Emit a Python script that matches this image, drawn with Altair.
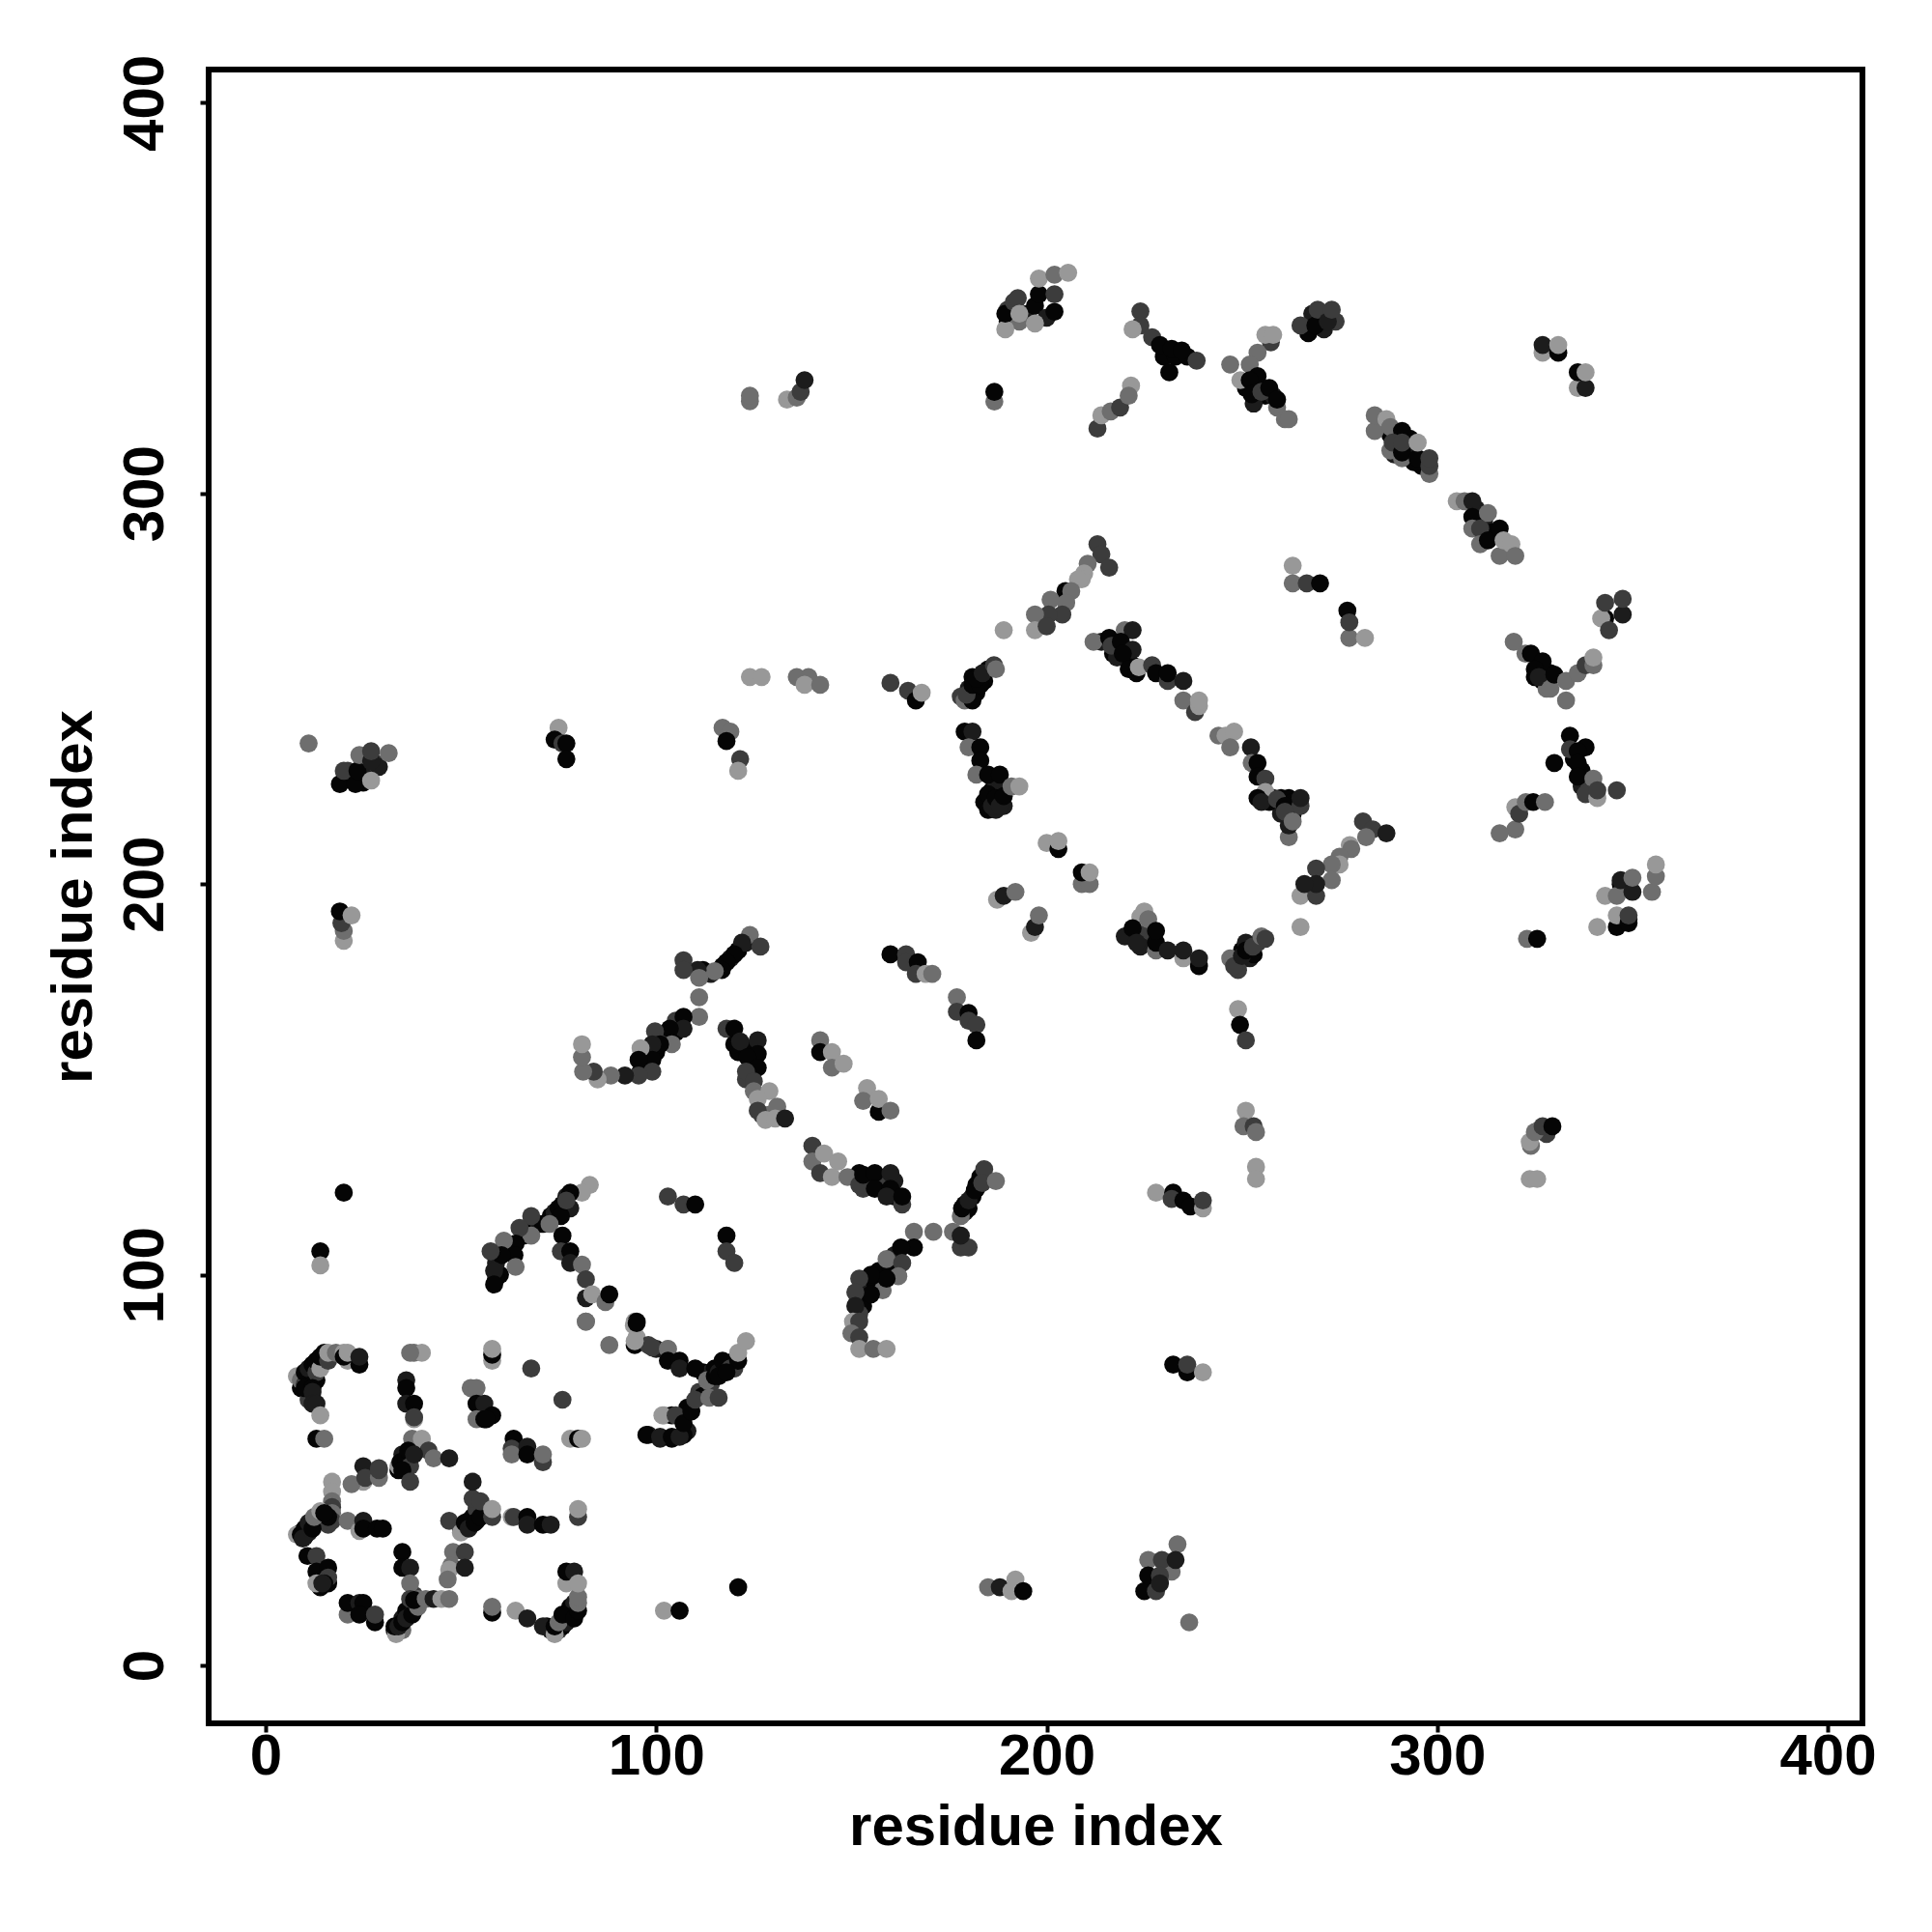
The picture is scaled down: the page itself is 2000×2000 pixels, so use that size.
import altair as alt
import pandas as pd

K, E, D, M, L = 0, 1, 2, 3, 4
level_domain = [K, E, D, M, L]
level_grays = ["#050505", "#1c1c1c", "#3c3c3c", "#6e6e6e", "#989898"]
tick_values = [0, 100, 200, 300, 400]

under_low = [(9,71,K),(10,73,E),(11,71,K),(11,73,E),(12,75,E),(13,73,K),(14,77,K),(15,78,E),(11,68,D),
 (9,34,K),(10,33,K),(11,34,E),(12,36,K),(13,37,E),(14,38,K),(15,37,D),(16,36,D),
 (34,50,K),(35,52,E),(36,51,K),(37,53,K),(35,54,E),(50,35,E),(51,35,K),(52,37,E),(53,38,K),(54,37,K),(54,40,D),
 (33,9,E),(34,9,K),(35,9,M),(35,12,E),(36,14,K),(37,15,K),(38,14,E),(38,18,D),(39,17,M),
 (72,10,K),(73,9,E),(75,9,D),(76,10,K),(77,11,E),(78,13,K),(78,15,K),(79,16,E),(14,23,K),(15,23,E),(16,21,K),(14,20,K)]
under_mid = [(60,100,K),(59,103,E),(59,99,K),(69,113,K),(70,113,E),(71,113,K),(73,115,K),(74,116,E),(75,117,K),(76,118,K),(77,120,E),(66,110,K),(62,107,E),
 (112,75,K),(114,75,E),(115,76,K),(117,76,K),(118,77,E),(120,78,K),(120,76,D),(108,66,K),(111,70,D),(112,69,K),(114,72,D),(108,60,E),(107,59,K),
 (112,178,K),(114,177,E),(117,179,K),(119,181,E),(121,183,K),(123,185,E),(96,152,K),(97,156,E),(98,154,K),(100,157,K),(102,160,D),(105,162,K),(105,165,D),
 (121,157,K),(123,158,K),(124,155,E),(125,153,K),(123,150,D),(127,141,D),(129,141,M),
 (152,126,K),(154,124,E),(157,124,K),(158,123,D),(161,120,K),(161,124,E),(153,122,D),
 (179,118,K),(179,116,E),(180,117,K),(181,120,K),(182,122,E),(183,125,K),(182,123,K),
 (153,98,K),(154,97,E),(156,98,K),(153,92,K),(152,90,D),(157,101,K),(160,102,K),(161,105,E)]
under_high = [(180,249,K),(180,250,E),(181,253,K),(182,249,K),(183,253,E),(184,252,K),(185,255,K),(178,248,D),
 (186,224,K),(187,225,E),(188,222,K),(184,221,K),(185,219,K),(187,219,E),(189,220,E),
 (214,262,E),(217,259,K),(218,262,K),(220,258,K),(218,258,E),(222,256,K),(217,262,D),
 (258,222,E),(260,222,K),(262,222,K),(263,218,K),(260,218,E),(257,221,K),(263,221,K),
 (221,187,K),(223,187,K),(224,189,K),(225,186,E),(226,188,D),(224,184,E),
 (249,180,K),(250,183,K),(252,181,E),(253,182,K),(254,185,D),(251,185,E),(249,178,D),
 (326,254,K),(327,252,K),(328,252,E),(329,254,K),(325,253,K),(328,250,M),
 (288,315,K),(290,312,K),(293,311,E),(293,314,K),(296,307,K),(289,310,E),(294,308,K),
 (310,292,K),(312,293,E),(314,290,K),(310,296,E),(312,289,K),(337,229,K),(335,232,K),(337,225,E),(339,225,D),(338,235,K),
 (270,345,K),(271,342,E),(268,346,E),(267,341,K),(274,344,D),(253,327,K),(254,327,E),(256,325,K),(253,323,E),(258,325,E),(251,327,K),
 (230,335,K),(233,335,K),(236,335,K),(190,347,D),(192,346,K),(195,346,E),(197,348,K),(200,345,E),(190,344,K),(193,344,M),
 (24,228,K),(26,228,E),(21,229,D),(25,226,K),(28,231,D),(29,230,E),(349,191,E),(347,200,K),(348,200,M),(347,191,M),(324,133,M),(326,137,M),(328,136,D)]
ring_a = [(8,74,L),(9,73,M),(10,72,D),(10,75,K),(11,74,K),(11,76,E),(12,72,K),(12,77,K),(13,75,D),(13,78,K),(14,76,L),(14,79,K),(15,80,K),(16,78,D),(16,80,L),(18,80,M),(20,80,L),(21,78,L),(20,79,K),(21,80,L),(24,77,K),(24,79,E),
 (10,71,K),(12,71,K),(12,70,E),(12,67,E),(13,67,E),(14,64,L),(13,58,K),(15,58,M)]
ring_b = [(36,73,E),(36,71,K),(36,67,E),(38,67,K),(38,63,L),(38,63.5,D),(38,80,M),(40,80,L),(37,80,M),
 (52.5,71,M),(54,71,M),(54,67,K),(56,67,E),(54,63,M),(56,63,K),(58,64,K),(56.5,63,K),(58,78,L),(58,79.5,K),(58,81,L),(68,76,D),(76,68,D),
 (63.5,58,K),(63,55.5,D),(63,54,M),(67,56,E),(67,54,K),(71,52,D),(71,54,M),(78,58,L),(80,58,K),(81,58,L),
 (82,88,M),(88,82,M),(95,84,L),(94.5,88,L),(95,88,K),(94.5,82,K),(98,82,D),(100,81,E),(103,81,L),
 (102,64,L),(104,64,K),(98,59,E),(101,58,E),(104,58,K)]
ring_c = [(37.5,58,M),(40,58,L),(41.7,55,D),(43,53,M),(47,53,E),(34,51,L),(34.5,52,K),(36,53,K),(36.5,55,K),(37,51,D),(38,54,E),(35,50,K),(37,47,D),
 (25,51,E),(29,50.5,D),(25,47,L),(22,46.4,M),(25.5,48,D),(29,48,M),(29,50,D),
 (17,47,L),(17,44.5,L),(17,42,M),(17,40.5,D),(17,39,M),(17,37,D),(16,38,K),(8,33.5,L),(9,33.5,K),(10,35,K),(9.5,32.5,E),(11,36.5,E),(12,35,K),(12.4,38,M),(14,39.5,L),(15,39,K),
 (21,37,M),(24,34.4,L),(25,37,E),(25,35,K),(28.5,35,K),(30,35,K),
 (47,37,D),(50,34,L),(51,36.5,K),(52,35,E),(53.5,36.5,K),(55,38,K),(53,42.7,D),(55,42,D),(53,47,E),(58,38,D),(58,40,L),
 (63,38,L),(63.5,38,D),(67,38,K),(67,36,E),(71,36,K),(73,36,E),(80,38,D),(80,40,L)]
ring_d = [(10.7,28,K),(13,28,D),(13,24,K),(16,25,K),(16,22.5,D),(13,21,L),(15,21,K),(14.5,21,E),
 (35,29,K),(35,25,K),(37,25,E),(37,21,M),(48,29,M),(51,29,D),(47.5,25.5,M),(47,24.5,L),(51,25,E),(46.6,22,M),
 (21,13,M),(21,16,K),(24,16,E),(25,16,K),(24,13,K),(28,11,K),(28,13,D),
 (33.4,8,L),(33,10,K),(34,10,E),(35,11,K),(36,12,E),(37.5,13,K),(39,15,M),(37,17,D),(38,16.7,K),(41,17,M),(43,17,E),(45,17,L),(47,17,M),
 (58,13.5,K),(58,15,M),(64,14,L),(67,12,E),(71,10,E),(74,8,L),(74,10,K),(75,11,M),(76,13,K),(79,12,K),(80,14,K),(80,16,M),(80,17.5,M),(77,21,L),(77,24,K),(79,24,E),(80,21,L),
 (102,14,L),(106,14,K)]
bottom_misc = [(121,20,K),(236.5,11,M),(185,20,M),(188,20,E),(191,19,L),(192,22,L),(194,19,K),
 (232,24,M),(233.5,31,M),(226,27,M),(229.5,27,D),(225,19,K),(226,23,K),(229,23,D),(233,27,E),(228,19,D),(229,21,E)]
lower_arc = [(83,123,L),(81,121,L),(78,121,K),(78,117,E),(75.6,115,K),(77,119,D),(72.7,113,M),(68,115,D),(68,110,M),(65,112,D),(64,108,K),(61,108.7,M),(63.7,105,K),(60.4,105,K),(57.6,106,D),(58.5,101,E),(58.5,97.5,K),(64,102,M),
 (76,110,K),(75.6,106,D),(78,106,K),(78,103,E),(81,102.6,M),(82,98.8,D),(82,94,E),(83.6,95,L),(87,93,M),(88,95,K),(82,88,M),
 (103,120,D),(107,118,D),(110,118,K),(118,110,K),(118,106,D),(120,103,D),
 (94.3,87,L),(95,87.6,K),(94.5,83,L),(99,81.4,D),(103,81,M),(103,78,K),(106,78,K),(106,76,E),(110,76,K),(113,73,M),(115,74,K),(116,75,E),(117,78,K),(119,76,D),(121,78,K),(121,80,L),(123,83,L),
 (97.5,59,K),(101,58.5,E),(104,58.5,K),(106,58.5,E),(101.6,64,L),(105,64,D),(107,62,K),(109,65,K),(110,68,D),(113.6,68.5,M),(116,68.5,D),(116,74,K),(118,75,K)]
middle_arc = [(124,187,M),(122,185,E),(120,182,K),(118,180,K),(116.8,178,K),(115,177.7,M),(126.7,184,D),(110.6,178,E),(107,180.5,D),(107,178,D),(111,176,M),(111,171,M),(111,166,M),
 (107,166,K),(107,163,E),(103.5,163,K),(99.7,162.3,D),(104,159,M),(101,159,K),(99,159,E),(99,155,K),(96,158,L),(95.5,155,K),(99,152,D),(95.5,151,D),(92,151,E),(88.4,151,M),(85,150,L),(84,152,D),(81.3,152,M),(81,155.7,M),(81,159,L),
 (118,163,D),(120,163,K),(120,159,K),(121.5,159.7,E),(126,160,E),(126,156.5,K),(123.4,155.7,K),(126,153,K),(123,152,D),(125,149.5,D),(125,147,M),(129,147,L),(126,145,L),(126,142,D),(131,143,M),(128,139.6,L),(130.5,140,L),(133,140,E),
 (160,182,K),(164,182,D),(164,180,D),(167,180,K),(166.5,177,D),(169,177,L),(170.7,177,M),(177,171,M),(177,167.3,D),(180,167,K),(180,165,D),(182,164,D),(182,160,K),
 (142,160,M),(142,157,K),(145,157,L),(145,153,M),(148,154,L),(154,147.8,L),(153,144.5,M),(157,141.7,K),(157,145,L),(160,142,M),
 (140,133,D),(140,129,M),(142,126,D),(143,131,L),(146.6,129,L),(145,125,L),(149,125,M),(152,123,D),(153,125.6,K),(156,126,K),(160,126,E),(156,122,K),(160,122,K),(159,120,E),(163,118,D),(163,120,K),
 (184,127,D),(178,115,M),(178.3,117,K),(180,119,E),(181.6,121.6,K),(183.5,123.5,D),(187,124,M),
 (166,111,M),(171,111,M),(176,111,M),(178,107,D),(180,107,D),(178,110,E),(166,107,K),(162.7,107,K),(159,104,M),(163,103,D),(162,99.6,M),(158,96,M),(159,99,K),(155,100,K),(155,95,K),(152,99,D),(151,95.5,D),(151,92,E),
 (150.4,88,L),(152,88,D),(150,85,M),(152,84,D),(152,81,L),(155.6,81,M),(159,81,L)]
upper_ring = [(213,287,D),(214,284.4,D),(210.5,282,M),(209.6,279.5,L),(209,278,L),(208,278,L),(216,281,D),(204.8,275,K),(206.3,275,M),(205,272,M),(201,272.8,M),(204,269,D),(200.5,269,D),(197,269,M),(197,265,L),(200,266,D),(189,265,L),
 (179,247,M),(181,247,K),(179.5,248.5,D),(181,251,K),(183,251,K),(182,252.6,K),(183.6,254,E),(186.5,256,D),(187,255,M),
 (160,251.5,D),(164.5,249.5,D),(166.5,247,K),(168,249,L),
 (179,239,K),(181,239,E),(180,235,M),(183,235,K),(183,231.6,K),(182,228,M),(185,228,K),(188,228,K),(185,223,K),(186,220,E),(187,222,K),(188,220,E),(189,222.5,K),(191,225,M),(193,225,L),
 (212,262,M),(216,263,K),(216.6,261,D),(220,265,M),(222,265,E),(219,262,K),(222,260,E),(219.5,259,K),(221,255,K),(223,254,K),(223.6,255.5,L),(227,256,D),(228,254,K),(231,252,D),(231,254,K),(235,252,E),
 (235,247,M),(238,244,D),(239,245.6,L),(239,247,L),(244,238,M),(245.8,238,L),(248,239,L),(247,235,M),(252.3,235,E),(252.5,231,M),(254,231,K),(254,227.5,K),(256,227,D),(256,223.6,L),(254,222,K),(255,221,E),(259,221.7,D),(261,220,K),(265,220,D),(265,222,E),(262,212,M),(262,215,E),(261,218.5,D),(263,216,M),
 (281,216,D),(283.5,214,D),(287,213,E),(281.8,212,M),(277.6,210,L),(278,209,M),(275,207,M),(275,205,L),(273,205,M),(269,204,D),(273,201,M),(265,197,L),(269,197,D),(269,200,E),(266,200,E),(265,189,L),
 (225,193,L),(224,191.6,L),(226,191,M),(220,186.6,E),(222,188.7,K),(223,185,E),(228,183,M),(228,185,K),(228,188,K),(231,183,E),(235,181,L),(235,183,E),(239,179,K),(239,181,E),
 (247,181,M),(248,179,D),(250,181.6,E),(251,183,K),(252.8,184,D),(255,186.6,M),(256,186,D),
 (200,210.5,L),(203,209,K),(203,211,L),(209,200,M),(211,200,M),(209,203,K),(211,203,L),
 (187.3,196,L),(189,197,E),(192,198,M),(196,187.5,L),(197,189,E),(198,192,M),
 (263,281.5,L),(263,277,M),(266.6,277,D),(270,277,K),(277,270,K),(277.5,263,M),(277.5,267,D),(281.5,263,L)]
outer_ring = [(265,343,D),(268.8,343,K),(269.4,347,D),(272,344,E),(273,347,D),(257.4,338.7,D),(256,340.6,L),(258,340.6,L),(254,336,M),(247,333,M),(252,333,M),(254,330,K),(249.6,329,L),(252,329,K),(252.5,325.4,K),(255,326,D),(257,327,K),(259,322,M),(259,324,K),(261,319,M),(262,319,M),
 (327,336,L),(327,338,E),(331,336,K),(331,338,L),(336,327,L),(338,327,E),(336,331,K),(338,331,L),
 (284,316,M),(284,320,M),(288,311,M),(287,319,L),(288,317,M),(291,316,K),(288.6,313,D),(291,309,M),(291,310.5,K),(291,313,D),(295,309,K),(295,313,L),(298,305,M),(298,307,D),(298,309,D),
 (305,298,L),(307,298,M),(309,298,E),(309,294,K),(309,291,M),(311,291,D),(313,295,M),(311,287,M),(313,288,K),(316,291,K),(316,284,M),(317,288,L),(319,287,L),(320,284,M),
 (343,268,K),(342,268,L),(344,265,D),(343,272,D),(347.5,269,E),(347.5,273,D),
 (319.6,262,M),(322.6,259,M),(324,259,K),(327,257,K),(325,255,K),(326,253,E),(329,250,M),(330,253.6,K),(333,247,M),(333,252,M),(336,254,M),(338,256,D),(340,256,M),(340,258,L),
 (334,238,K),(330,231,K),(334,234.5,D),(336,234,K),(336,231,K),(336,227.5,K),(340,227,M),(338,223,D),(341,222,L),(341,224,D),(346,224,D),
 (320,214,M),(316,213,M),(320,219.7,L),(321,218,D),(322.7,221,M),(324.6,221,K),(327.6,221,M),
 (355,198,M),(356,202,M),(356,205,L),(343,197,L),(346,197,M),(347,201,E),(350,198,E),(350,201.6,M),(341,189,L),(346,189,K),(346,192,L),(349,190,K),(349,192,D),
 (323,186,M),(325.6,186,K)]
left_misc = [(11,236,M),(19,225.6,K),(20,229,D),(23,225.6,K),(23.5,229,K),(24,233,M),(27,226.5,L),(27,231.5,E),(27,234,D),(31.5,233.5,M),
 (75,240,L),(74,237,K),(76,236,D),(77,236,K),(77,232,K),(117,240,M),(119,239,M),(118,236.6,K),(121.5,232,D),(121,229,L),
 (124,253,L),(127,253,L),(136,253,M),(139,253,M),(138,251,L),(142,251,M)]
top_misc = [(124,323.6,M),(124,325,M),(133.5,324,L),(136,324.5,M),(137,326,D),(138,329,E),(186.6,323.5,M),(186.6,326,K),
 (189.4,342,L),(189.4,346,K),(191.6,349,D),(192.6,350,D),(193,346,L),(197,343.5,L),(198,351,K),(198,355,L),(202,346.5,K),(202,351,D),(202,356,M),(205.5,356.5,L),
 (213,316.6,D),(214,320,L),(216.4,321,M),(218.8,322,D),(221.6,327.6,L),(221,325,M),(224,346.6,D),(224,343,D),(222,342,L),(227,340,D),(229,338,K),(232,337,K),(231.4,331,K),(234.6,336.6,K),(238.4,334,D)]
right_misc = [(249,168,L),(249.5,164,K),(251,160,D),(251,142,L),(250.4,138,M),(253,138,D),(253.6,136.5,M),(253.6,127.6,L),(253.6,124.5,L),
 (323.7,134,L),(325,136.5,M),(327,138,D),(329.5,138,K),(323.7,124.5,L),(325.6,124.5,L),
 (228,121,L),(232.4,121,K),(232,119.4,D),(235,119,K),(236.8,117.5,K),(240,117,L),(240,119,D),(232.4,77,K),(236,75,K),(236,77,D),(240,75,L)]
far_left = [(20,121,K),(14,106,K),(14,102.4,L),(20,185.5,L),(20,188,M),(19.4,190,D),(19,193,K),(22,192,L)]

groups = [under_low, under_mid, under_high, ring_a, ring_b, ring_c, ring_d, bottom_misc, lower_arc, middle_arc, upper_ring, outer_ring, left_misc, top_misc, right_misc, far_left]
rows = [p for g in groups for p in g]
df = pd.DataFrame(rows, columns=["i", "j", "level"])
df["n"] = range(len(df))

font = "Liberation Sans"
x_axis = alt.Axis(values=tick_values, title="residue index", grid=False, domain=False, ticks=True,
                  tickSize=9, tickWidth=4, tickColor="black", labelFont=font, labelFontSize=60, labelFontWeight="bold",
                  labelColor="black", labelPadding=-4, labelFlush=False, labelOverlap=False, titleFont=font, titleFontSize=60,
                  titleFontWeight="bold", titleColor="black", titlePadding=14)
y_axis = alt.Axis(values=tick_values, title="residue index", grid=False, domain=False, ticks=True,
                  tickSize=9, tickWidth=4, tickColor="black", labelFont=font, labelFontSize=60, labelFontWeight="bold",
                  labelColor="black", labelAngle=270, labelAlign="center", labelBaseline="bottom", labelPadding=26, labelOverlap=False,
                  titleFont=font, titleFontSize=60, titleFontWeight="bold", titleColor="black", titlePadding=13)

chart = alt.Chart(df).mark_circle(size=350, opacity=1).encode(
    x=alt.X("i:Q", scale=alt.Scale(domain=[-14.6, 408.9], nice=False, zero=False), axis=x_axis),
    y=alt.Y("j:Q", scale=alt.Scale(domain=[-14.84, 408.5], nice=False, zero=False), axis=y_axis),
    color=alt.Color("level:O", scale=alt.Scale(domain=level_domain, range=level_grays), legend=None),
    order=alt.Order("n:Q"),
).properties(
    width=1712, height=1712,
    autosize=alt.AutoSizeParams(type="none"),
    padding={"left": 208, "top": 64, "right": 60, "bottom": 200},
    background="white",
).configure_view(stroke="black", strokeWidth=6, fill="white")

chart.save("out.html", embed_options={"renderer": "svg", "actions": False})
